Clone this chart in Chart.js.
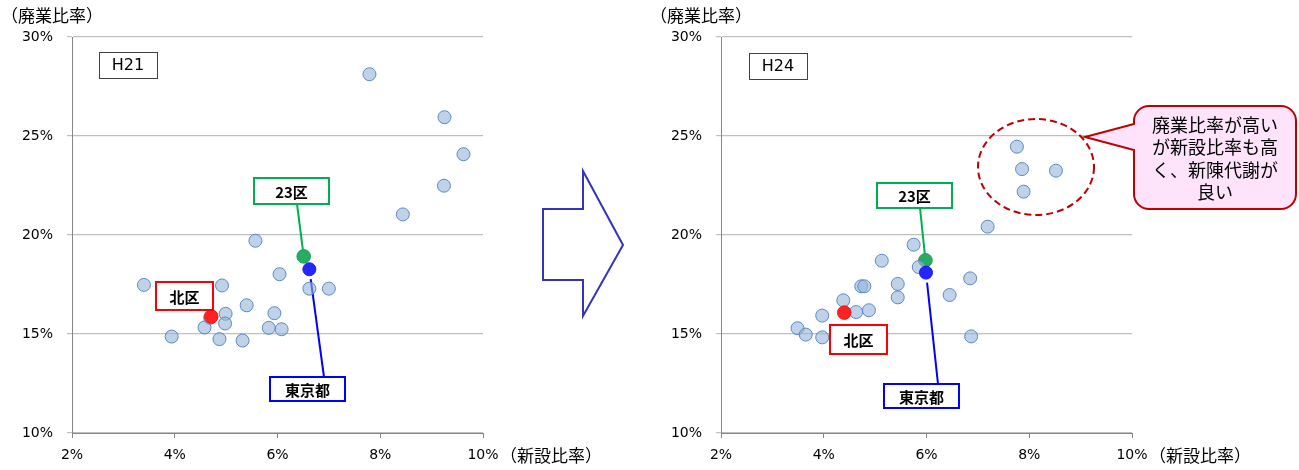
<!DOCTYPE html>
<html>
<head>
<meta charset="utf-8">
<script src="https://cdn.jsdelivr.net/npm/chart.js@4/dist/chart.umd.min.js"></script>
<style>
  body { margin: 0; background: #fff; width: 1299px; height: 470px; overflow: hidden; position: relative; }
  canvas { position: absolute; top: 0; }
</style>
</head>
<body>
<canvas id="chartH21" width="650" height="470" style="left:0"></canvas>
<canvas id="chartH24" width="650" height="470" style="left:649px"></canvas>
<script>
// H21: 新設比率 (x) / 廃業比率 (y) for each ward, in %
const h21WardX = [7.79, 9.25, 9.62, 9.24, 8.44, 5.57, 6.04, 3.40, 4.92, 6.62, 7.00, 5.40, 4.99, 5.94, 4.98, 4.58, 5.83, 6.08, 3.94, 4.87, 5.32, 4.69];
const h21WardY = [28.12, 25.95, 24.08, 22.49, 21.04, 19.71, 18.02, 17.48, 17.45, 17.29, 17.29, 16.45, 16.02, 16.05, 15.53, 15.33, 15.31, 15.24, 14.87, 14.74, 14.67, 15.82];
const h21Kita = [4.71, 15.88];
const h21Ku23 = [6.51, 18.92];
const h21Tokyo = [6.62, 18.27];

// H24
const h24WardX = [7.76, 7.86, 8.52, 7.89, 7.19, 5.75, 5.13, 5.85, 6.85, 5.44, 4.73, 4.79, 5.44, 6.45, 4.38, 4.63, 4.88, 3.97, 3.49, 3.65, 3.97, 6.87];
const h24WardY = [24.46, 23.33, 23.25, 22.19, 20.42, 19.51, 18.70, 18.38, 17.81, 17.53, 17.41, 17.41, 16.85, 16.97, 16.70, 16.11, 16.20, 15.93, 15.29, 14.97, 14.83, 14.88];
const h24Kita = [4.40, 16.08];
const h24Ku23 = [5.98, 18.72];
const h24Tokyo = [5.99, 18.10];

const xTicks = [2, 4, 6, 8, 10];
const yTicks = [10, 15, 20, 25, 30];

const CJK = '"Noto Sans CJK JP", "Noto Sans CJK SC", sans-serif';
const LATIN = '"DejaVu Sans", Verdana, sans-serif';

function pts(xs, ys) {
  return xs.map((x, i) => ({ x: x, y: ys[i] }));
}

function boxLabel(ctx, b, text, color) {
  ctx.fillStyle = '#fff';
  ctx.fillRect(b.x, b.y, b.w, b.h);
  ctx.strokeStyle = color;
  ctx.lineWidth = 2;
  ctx.strokeRect(b.x, b.y, b.w, b.h);
  ctx.fillStyle = '#000';
  ctx.font = 'bold 15px ' + CJK;
  ctx.textAlign = 'center';
  ctx.textBaseline = 'middle';
  ctx.fillText(text, b.x + b.w / 2, b.y + b.h / 2 + 1);
}

// leader line from a label box to a data point, stopping `gap` px short of it
function leader(ctx, sx, sy, px, py, gap, color) {
  const dx = sx - px, dy = sy - py;
  const len = Math.sqrt(dx * dx + dy * dy);
  ctx.strokeStyle = color;
  ctx.lineWidth = 2;
  ctx.beginPath();
  ctx.moveTo(sx, sy);
  ctx.lineTo(px + dx / len * gap, py + dy / len * gap);
  ctx.stroke();
}

function decorPlugin(cfg) {
  return {
    id: 'decor',
    beforeDatasetsDraw(chart) {
      const ctx = chart.ctx, xs = chart.scales.x, ys = chart.scales.y;
      ctx.save();
      const g = cfg.ku23Box, t = cfg.tokyoBox;
      leader(ctx, g.x + 43, g.y + g.h, xs.getPixelForValue(cfg.ku23[0]), ys.getPixelForValue(cfg.ku23[1]), 0, '#00b050');
      leader(ctx, t.x + 54, t.y, xs.getPixelForValue(cfg.tokyo[0]), ys.getPixelForValue(cfg.tokyo[1]), 10, '#0000ff');
      ctx.restore();
    },
    afterDraw(chart) {
      const ctx = chart.ctx, area = chart.chartArea;
      ctx.save();
      // axis titles
      ctx.fillStyle = '#000';
      ctx.font = '17px ' + CJK;
      ctx.textAlign = 'left';
      ctx.textBaseline = 'middle';
      ctx.fillText('（廃業比率）', 1, 16);
      ctx.fillText('（新設比率）', area.right + 17, 456);

      // year box
      const yb = cfg.yearBox;
      ctx.strokeStyle = '#404040';
      ctx.lineWidth = 1;
      ctx.strokeRect(yb.x + 0.5, yb.y + 0.5, yb.w, yb.h);
      ctx.font = '16px ' + LATIN;
      ctx.textAlign = 'center';
      ctx.fillText(cfg.year, yb.x + yb.w / 2, yb.y + yb.h / 2 + 1);

      boxLabel(ctx, cfg.ku23Box, '23区', '#00b050');
      boxLabel(ctx, cfg.kitaBox, '北区', '#ff0000');
      boxLabel(ctx, cfg.tokyoBox, '東京都', '#0000ff');

      if (cfg.arrow) {
        ctx.strokeStyle = '#3333bb';
        ctx.lineWidth = 2;
        ctx.beginPath();
        cfg.arrow.forEach((p, i) => i ? ctx.lineTo(p[0], p[1]) : ctx.moveTo(p[0], p[1]));
        ctx.closePath();
        ctx.stroke();
      }

      if (cfg.callout) {
        const e = cfg.callout.ellipse;
        ctx.strokeStyle = '#c00000';
        ctx.lineWidth = 2;
        ctx.setLineDash([7, 4]);
        ctx.beginPath();
        ctx.ellipse(e.cx, e.cy, e.rx, e.ry, 0, 0, Math.PI * 2);
        ctx.stroke();
        ctx.setLineDash([]);

        const c = cfg.callout, r = 15;
        const x0 = c.x, y0 = c.y, x1 = c.x + c.w, y1 = c.y + c.h;
        ctx.beginPath();
        ctx.moveTo(x0 + r, y0);
        ctx.lineTo(x1 - r, y0);
        ctx.arcTo(x1, y0, x1, y0 + r, r);
        ctx.lineTo(x1, y1 - r);
        ctx.arcTo(x1, y1, x1 - r, y1, r);
        ctx.lineTo(x0 + r, y1);
        ctx.arcTo(x0, y1, x0, y1 - r, r);
        ctx.lineTo(x0, c.tailBottom);
        ctx.lineTo(c.tip[0], c.tip[1]);
        ctx.lineTo(x0, c.tailTop);
        ctx.lineTo(x0, y0 + r);
        ctx.arcTo(x0, y0, x0 + r, y0, r);
        ctx.closePath();
        ctx.fillStyle = '#ffe3fa';
        ctx.fill();
        ctx.stroke();

        ctx.fillStyle = '#000';
        ctx.font = '18px ' + CJK;
        ctx.textAlign = 'center';
        ctx.textBaseline = 'middle';
        c.lines.forEach((s, i) => ctx.fillText(s, x0 + c.w / 2, 125 + i * 22.5));
      }
      ctx.restore();
    }
  };
}

function makeChart(id, wardX, wardY, kita, ku23, tokyo, cfg) {
  return new Chart(document.getElementById(id), {
    type: 'scatter',
    data: {
      datasets: [
        { label: '北区', data: [{ x: kita[0], y: kita[1] }], backgroundColor: '#ff2222', borderColor: '#f01818', borderWidth: 1, pointRadius: 6.8, order: 0 },
        { label: '東京都', data: [{ x: tokyo[0], y: tokyo[1] }], backgroundColor: '#2525ff', borderColor: '#1a1af0', borderWidth: 1, pointRadius: 6.5, order: 0 },
        { label: '区', data: pts(wardX, wardY), backgroundColor: 'rgba(150,180,217,0.6)', borderColor: 'rgba(79,129,189,0.9)', borderWidth: 1, pointRadius: 6.5, order: 1 },
        { label: '23区', data: [{ x: ku23[0], y: ku23[1] }], backgroundColor: '#27ad62', borderColor: '#1f9e55', borderWidth: 1, pointRadius: 6.8, order: 2 }
      ]
    },
    options: {
      responsive: false,
      animation: false,
      events: [],
      layout: { padding: { left: 0, top: 37, right: 167, bottom: 0 } },
      plugins: { legend: { display: false }, tooltip: { enabled: false } },
      scales: {
        x: {
          type: 'linear', min: 2, max: 10,
          afterFit: s => { s.height = 37; },
          afterBuildTicks: s => { s.ticks = xTicks.map(v => ({ value: v })); },
          ticks: { callback: v => v + '%', color: '#000', padding: 9, font: { family: LATIN, size: 14 }, maxRotation: 0 },
          grid: { drawOnChartArea: false, drawTicks: true, tickLength: 5, color: '#868686' },
          border: { color: '#868686', width: 1 }
        },
        y: {
          min: 10, max: 30,
          afterFit: s => { s.width = 72; },
          afterBuildTicks: s => { s.ticks = yTicks.map(v => ({ value: v })); },
          ticks: { callback: v => v + '%', color: '#000', padding: 14, font: { family: LATIN, size: 14 } },
          grid: { color: '#bfbfbf', tickLength: 5, lineWidth: 1.2 },
          border: { color: '#868686', width: 1 }
        }
      }
    },
    plugins: [decorPlugin(Object.assign({ kita: kita, ku23: ku23, tokyo: tokyo }, cfg))]
  });
}

makeChart('chartH21', h21WardX, h21WardY, h21Kita, h21Ku23, h21Tokyo, {
  year: 'H21',
  yearBox: { x: 99, y: 52, w: 58, h: 26 },
  ku23Box: { x: 254, y: 178, w: 75, h: 26 },
  kitaBox: { x: 156, y: 282, w: 57, h: 28 },
  tokyoBox: { x: 270, y: 377, w: 75, h: 24 },
  arrow: [[543, 209], [583, 209], [583, 171], [623, 245], [583, 316], [583, 280], [543, 280]]
});

makeChart('chartH24', h24WardX, h24WardY, h24Kita, h24Ku23, h24Tokyo, {
  year: 'H24',
  yearBox: { x: 100, y: 53, w: 58, h: 26 },
  ku23Box: { x: 228, y: 183, w: 75, h: 25 },
  kitaBox: { x: 181, y: 325, w: 57, h: 29 },
  tokyoBox: { x: 235, y: 384, w: 75, h: 24 },
  callout: {
    x: 485, y: 106, w: 162, h: 103,
    tailTop: 124, tailBottom: 150, tip: [436, 137],
    ellipse: { cx: 387, cy: 167, rx: 58, ry: 48 },
    lines: ['廃業比率が高い', 'が新設比率も高', 'く、新陳代謝が', '良い']
  }
});
</script>
</body>
</html>
